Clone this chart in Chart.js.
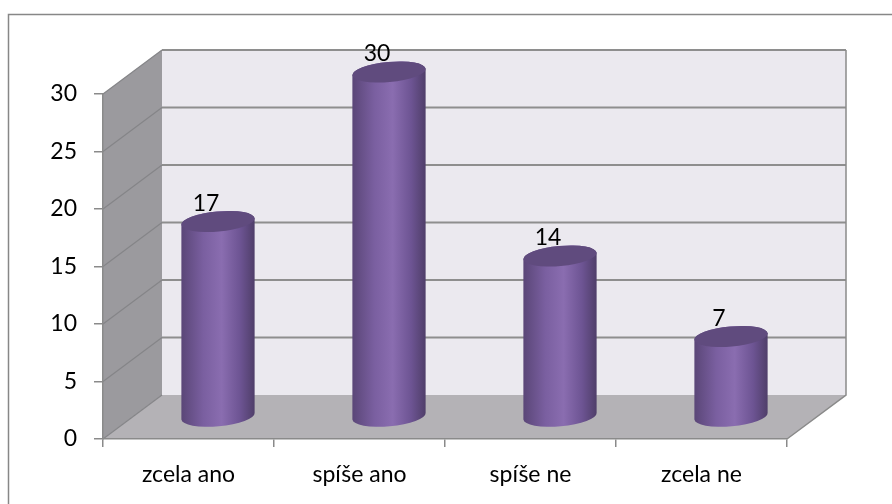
<!DOCTYPE html>
<html>
<head>
<meta charset="utf-8">
<script src="https://cdn.jsdelivr.net/npm/chart.js@4/dist/chart.umd.min.js"></script>
<style>
  html, body { margin: 0; padding: 0; background: #fff; }
  #wrap { width: 892px; height: 504px; position: relative; }
</style>
</head>
<body>
<div id="wrap"><canvas id="chart" width="892" height="504"></canvas></div>
<script>
// chart data
const categories = ['zcela ano', 'spíše ano', 'spíše ne', 'zcela ne'];
const answers = [17, 30, 14, 7];
const yTicks = [0, 5, 10, 15, 20, 25, 30];

// 3D look: offset of the back wall from the front axes
const DEPTH_X = 59;
const DEPTH_Y = -44;
const FONT = 'Lato, "Open Sans", sans-serif';

// draws the walls and the floor before the axes
const wallsPlugin = {
  id: 'walls',
  beforeDraw(chart) {
    const ctx = chart.ctx;
    const x = chart.scales.x, y = chart.scales.y;
    const l = x.left, r = x.right;
    const t = y.getPixelForValue(yTicks[yTicks.length - 1]);
    const b = y.getPixelForValue(0);
    ctx.save();
    // outer frame
    ctx.strokeStyle = '#878787';
    ctx.lineWidth = 1.5;
    ctx.strokeRect(8.5, 14.5, 1000, 1000);
    // back wall
    ctx.fillStyle = '#ebe9ef';
    ctx.fillRect(l + DEPTH_X, t + DEPTH_Y, r - l, b - t);
    // side wall
    ctx.fillStyle = '#9b9a9e';
    ctx.beginPath();
    ctx.moveTo(l, t);
    ctx.lineTo(l + DEPTH_X, t + DEPTH_Y);
    ctx.lineTo(l + DEPTH_X, b + DEPTH_Y);
    ctx.lineTo(l, b);
    ctx.closePath();
    ctx.fill();
    // floor
    ctx.fillStyle = '#b4b2b6';
    ctx.beginPath();
    ctx.moveTo(l, b);
    ctx.lineTo(r, b);
    ctx.lineTo(r + DEPTH_X, b + DEPTH_Y);
    ctx.lineTo(l + DEPTH_X, b + DEPTH_Y);
    ctx.closePath();
    ctx.fill();
    // gridlines on back and side wall
    yTicks.forEach(v => {
      const py = y.getPixelForValue(v);
      if (v > 0) {
        ctx.strokeStyle = '#8e8e8e';
        ctx.lineWidth = 2;
        ctx.beginPath();
        ctx.moveTo(l + DEPTH_X, py + DEPTH_Y);
        ctx.lineTo(r + DEPTH_X, py + DEPTH_Y);
        ctx.stroke();
      }
      ctx.strokeStyle = '#858588';
      ctx.lineWidth = 1.2;
      ctx.beginPath();
      ctx.moveTo(l, py);
      ctx.lineTo(l + DEPTH_X, py + DEPTH_Y);
      ctx.stroke();
    });
    // floor edges
    ctx.strokeStyle = '#8a8a8a';
    ctx.lineWidth = 1.5;
    ctx.beginPath();
    ctx.moveTo(r, b);
    ctx.lineTo(r + DEPTH_X, b + DEPTH_Y);
    ctx.lineTo(r + DEPTH_X, t + DEPTH_Y);
    ctx.stroke();
    ctx.restore();
  }
};

// draws each bar as a cylinder half way into the depth
const cylinderPlugin = {
  id: 'cylinders',
  afterDatasetsDraw(chart) {
    const ctx = chart.ctx;
    const meta = chart.getDatasetMeta(0);
    const rot = -0.09;
    ctx.save();
    meta.data.forEach((bar, i) => {
      const cx = bar.x + DEPTH_X / 2;
      const yt = bar.y + DEPTH_Y / 2;
      const yb = bar.base + DEPTH_Y / 2;
      const rx = bar.width / 2;
      const ry = 10;
      const grad = ctx.createLinearGradient(cx - rx, 0, cx + rx, 0);
      grad.addColorStop(0, '#5a4677');
      grad.addColorStop(0.3, '#7a5fa0');
      grad.addColorStop(0.55, '#8a6db0');
      grad.addColorStop(0.8, '#6d5493');
      grad.addColorStop(1, '#4f3e69');
      ctx.fillStyle = grad;
      ctx.beginPath();
      ctx.ellipse(cx, yb, rx, ry, rot, 0, Math.PI);
      ctx.ellipse(cx, yt, rx, ry, rot, Math.PI, Math.PI * 2);
      ctx.closePath();
      ctx.fill();
      // top cap
      ctx.fillStyle = '#604b7e';
      ctx.beginPath();
      ctx.ellipse(cx, yt, rx, ry, rot, 0, Math.PI * 2);
      ctx.fill();
      // value label
      ctx.fillStyle = '#000';
      ctx.font = '23px ' + FONT;
      ctx.textAlign = 'center';
      ctx.textBaseline = 'middle';
      ctx.fillText(String(answers[i]), cx - 12, yt - 18);
    });
    ctx.restore();
  }
};

new Chart(document.getElementById('chart'), {
  type: 'bar',
  data: {
    labels: categories,
    datasets: [{
      data: answers,
      backgroundColor: 'rgba(0,0,0,0)',
      borderWidth: 0,
      barPercentage: 0.43,
      categoryPercentage: 1
    }]
  },
  options: {
    responsive: false,
    animation: false,
    layout: { padding: { left: 0, top: 94, right: 105, bottom: 0 } },
    plugins: { legend: { display: false }, tooltip: { enabled: false } },
    scales: {
      x: {
        afterFit: s => { s.height = 65; },
        grid: { drawOnChartArea: false, tickLength: 8, color: '#8a8a8a', lineWidth: 1.5 },
        border: { color: '#8a8a8a', width: 1.5 },
        ticks: { color: '#000', font: { family: FONT, size: 23 }, padding: 14, maxRotation: 0 }
      },
      y: {
        min: 0,
        max: 30,
        afterFit: s => { s.width = 103; },
        afterBuildTicks: s => { s.ticks = yTicks.map(v => ({ value: v })); },
        grid: { drawOnChartArea: false, tickLength: 9, color: '#8a8a8a', lineWidth: 1.5 },
        border: { color: '#8a8a8a', width: 1.5 },
        ticks: { color: '#000', font: { family: FONT, size: 23 }, padding: 17 }
      }
    }
  },
  plugins: [wallsPlugin, cylinderPlugin]
});
</script>
</body>
</html>
